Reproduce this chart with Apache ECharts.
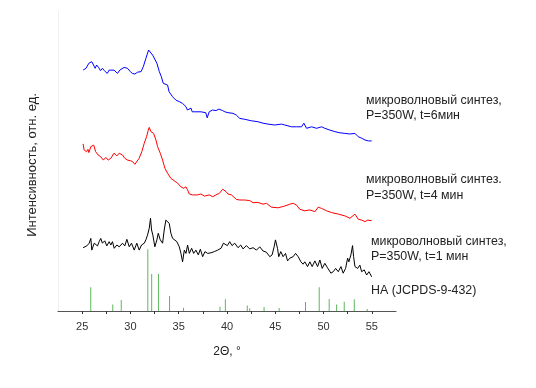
<!DOCTYPE html>
<html>
<head>
<meta charset="utf-8">
<script src="https://cdn.jsdelivr.net/npm/echarts@6/dist/echarts.min.js"></script>
<style>
html,body{margin:0;padding:0;background:#fff;}
#c{width:536px;height:388px;}
</style>
</head>
<body>
<div id="c"></div>
<script>
// 2Θ tick values
const xLabelTicks = [25, 30, 35, 40, 45, 50, 55];
const xAllTicks = [25, 27.5, 30, 32.5, 35, 37.5, 40, 42.5, 45, 47.5, 50, 52.5, 55];

// microwave synthesis, t = 6 min (blue)
const t6 = [
[25.1,80.3],[25.4,80.9],[25.7,82.6],[26.0,83.1],[26.2,82.8],[26.35,80.9],[26.5,82.0],[26.7,81.2],
[26.9,80.1],[27.1,80.9],[27.3,80.1],[27.6,79.2],[27.8,80.3],[27.95,80.9],[28.3,80.3],[28.66,79.2],
[28.9,80.3],[29.35,81.2],[29.7,80.9],[29.98,79.8],[30.2,79.2],[30.46,79.0],[30.74,79.6],[31.1,79.8],
[31.33,81.4],[31.6,84.2],[31.88,87.0],[32.05,86.4],[32.3,85.3],[32.5,84.8],[32.74,82.6],[32.99,79.8],
[33.2,78.1],[33.4,75.9],[33.6,75.3],[33.85,75.3],[34.0,73.1],[34.37,71.4],[34.7,70.3],[35.06,69.8],
[35.4,69.2],[35.75,68.1],[35.9,67.0],[36.27,67.6],[36.4,66.4],[36.78,66.4],[37.3,66.4],[37.8,66.1],
[37.95,64.4],[38.16,66.4],[38.5,67.0],[38.86,66.8],[39.16,67.3],[39.55,66.8],[39.78,66.4],[40.1,66.1],
[40.62,65.9],[40.97,65.3],[41.32,64.2],[41.84,63.9],[42.53,63.4],[43.2,63.1],[43.73,62.6],[44.25,62.3],
[44.95,62.0],[45.64,62.3],[45.99,62.0],[46.68,61.4],[47.2,61.4],[47.72,61.4],[47.96,62.6],[48.24,60.9],
[48.76,61.4],[49.27,60.9],[49.8,61.4],[50.13,60.9],[50.65,60.3],[51.17,59.8],[51.69,59.4],[52.21,59.2],
[52.73,59.0],[53.25,59.2],[53.59,58.1],[53.94,57.6],[54.29,57.0],[54.63,56.7],[54.98,56.7]
];

// microwave synthesis, t = 4 min (red)
const t4 = [
[25.1,55.7],[25.2,53.7],[25.45,53.1],[25.6,53.9],[25.7,52.8],[25.9,54.8],[26.2,55.3],[26.25,55.7],
[26.4,53.1],[26.66,52.0],[26.93,51.4],[27.2,50.3],[27.45,51.2],[27.7,50.3],[27.97,50.9],[28.14,51.4],
[28.3,52.6],[28.6,51.7],[28.84,52.6],[29.18,52.0],[29.42,50.9],[29.7,50.3],[29.98,50.1],[30.22,49.8],
[30.46,48.9],[30.66,49.4],[30.9,50.9],[31.18,53.1],[31.43,55.9],[31.67,58.1],[31.85,60.3],[31.95,61.2],
[32.12,59.8],[32.4,59.2],[32.64,57.0],[32.81,54.8],[33.09,52.6],[33.33,50.3],[33.57,47.6],[33.85,45.9],
[34.19,44.2],[34.54,43.4],[34.89,42.6],[35.23,41.4],[35.51,40.9],[35.75,41.4],[35.92,40.3],[36.1,39.0],
[36.44,38.7],[36.96,38.7],[37.3,39.0],[37.66,38.3],[38.17,38.7],[38.52,38.1],[38.86,38.7],[39.21,39.2],
[39.55,40.6],[39.9,39.8],[40.1,39.0],[40.46,38.7],[40.97,37.2],[41.32,37.0],[41.84,37.0],[42.35,36.8],
[42.7,36.1],[43.2,36.2],[43.73,35.6],[44.08,35.9],[44.6,34.6],[45.29,34.4],[45.99,35.0],[46.5,35.6],
[46.85,35.9],[47.2,35.3],[47.54,33.9],[48.06,33.4],[48.58,33.7],[49.1,33.1],[49.44,34.6],[49.79,34.2],
[50.31,33.4],[50.83,32.8],[51.52,32.3],[52.21,31.7],[52.73,30.9],[52.9,30.3],[53.25,32.3],[53.59,30.6],
[53.94,30.3],[54.29,29.8],[54.56,30.3],[54.98,30.1]
];

// microwave synthesis, t = 1 min (black)
const t1 = [
[25.1,21.1],[25.48,21.7],[25.73,22.6],[25.9,24.2],[26.0,20.3],[26.25,22.6],[26.41,23.1],[26.59,21.7],
[26.76,23.1],[26.93,24.2],[27.1,22.6],[27.34,23.4],[27.55,21.7],[27.8,23.1],[27.97,22.0],[28.14,23.1],
[28.32,20.9],[28.59,22.0],[28.84,21.4],[29.18,22.6],[29.42,21.7],[29.63,23.9],[29.88,21.4],[30.11,22.6],
[30.39,20.3],[30.66,22.6],[30.91,20.3],[31.15,22.0],[31.43,22.6],[31.6,23.7],[31.77,25.3],[31.95,27.6],
[32.08,30.9],[32.19,27.0],[32.32,25.3],[32.53,21.4],[32.74,23.7],[32.88,25.9],[33.09,23.7],[33.33,22.6],
[33.5,27.0],[33.67,30.3],[33.85,30.3],[34.02,29.2],[34.19,25.9],[34.37,24.2],[34.54,24.8],[34.81,23.1],
[35.06,21.4],[35.23,19.2],[35.4,16.4],[35.58,20.3],[35.75,19.2],[35.92,22.0],[36.1,19.2],[36.34,20.9],
[36.55,19.2],[36.78,20.3],[37.03,18.7],[37.24,20.6],[37.48,18.1],[37.72,19.8],[38.0,19.2],[38.34,19.4],
[38.69,19.8],[39.04,20.3],[39.38,20.9],[39.63,22.6],[39.83,22.6],[40.04,21.8],[40.28,23.1],[40.52,21.8],
[40.8,22.6],[41.14,21.1],[41.42,22.0],[41.66,20.7],[42.01,21.8],[42.35,20.7],[42.7,21.1],[43.05,20.3],
[43.39,21.4],[43.73,20.0],[44.08,19.6],[44.43,18.1],[44.67,18.7],[44.88,21.4],[45.02,23.7],[45.23,20.9],
[45.36,18.1],[45.57,19.8],[45.81,18.1],[46.06,19.2],[46.27,16.7],[46.5,17.6],[46.85,18.1],[47.1,19.2],
[47.37,18.1],[47.65,16.4],[47.88,15.6],[48.06,16.4],[48.34,14.8],[48.58,16.4],[48.82,14.8],[49.1,16.7],
[49.38,14.8],[49.62,17.0],[49.86,14.2],[50.13,15.9],[50.41,14.4],[50.76,12.6],[51.0,13.1],[51.25,14.2],
[51.52,13.1],[51.8,14.8],[52.03,12.6],[52.28,14.2],[52.49,17.6],[52.62,16.4],[52.83,18.7],[53.0,21.8],
[53.11,18.1],[53.25,14.8],[53.53,14.2],[53.76,15.3],[53.94,13.1],[54.21,13.7],[54.46,12.0],[54.7,13.1],
[54.98,11.4]
];

// HA reference (JCPDS 9-432) stick pattern
const haPos = [25.89, 28.17, 29.05, 31.8, 32.2, 32.9, 34.05, 35.5, 39.27, 39.83, 42.1, 42.35, 43.84, 45.4, 48.13, 49.55, 50.58, 51.35, 52.14, 53.18, 54.52];
const haInt = [7.9, 2.2, 3.7, 20.6, 12.3, 12.3, 5.0, 1.1, 1.4, 3.9, 1.8, 0.9, 1.3, 1.0, 3.0, 7.9, 4.0, 2.2, 3.1, 3.9, 0.7];

const labels = [
  ['микроволновый синтез,', 'P=350W, t=6мин'],
  ['микроволновый синтез.', 'P=350W, t=4 мин'],
  ['микроволновый синтез,', 'P=350W, t=1 мин'],
  ['HA (JCPDS-9-432)']
];
const yTitle = 'Интенсивность, отн. ед.';
const xTitle = '2Θ, °';

const chart = echarts.init(document.getElementById('c'), null, {renderer: 'canvas'});
const FONT = 'Liberation Sans, Arial, sans-serif';
const lineSeries = (data, color) => ({
  type: 'line', data: data, showSymbol: false, symbol: 'none', silent: true,
  lineStyle: {color: color, width: 1}, animation: false
});

chart.setOption({
  animation: false,
  backgroundColor: '#fff',
  grid: {left: 58, right: 140, top: 11, bottom: 77},
  xAxis: {
    type: 'value', min: 22.5, max: 57.5,
    name: xTitle, nameLocation: 'middle', nameGap: 35,
    nameTextStyle: {fontFamily: FONT, fontSize: 12, color: '#222'},
    axisLine: {show: true, lineStyle: {color: '#555', width: 1.2}},
    axisTick: {show: true, length: 3, customValues: xAllTicks, lineStyle: {color: '#333'}},
    axisLabel: {customValues: xLabelTicks, fontFamily: FONT, fontSize: 11, color: '#333', margin: 10},
    splitLine: {show: false}
  },
  yAxis: {
    type: 'value', min: 0, max: 100,
    axisLine: {show: true, lineStyle: {color: '#f0f0f0', width: 1}},
    axisTick: {show: false}, axisLabel: {show: false}, splitLine: {show: false}
  },
  series: [
    lineSeries(t6, '#0000ff'),
    lineSeries(t4, '#ff0000'),
    lineSeries(t1, '#000000'),
    {
      type: 'bar', barWidth: 1, silent: true,
      data: haPos.map((p, i) => [p, haInt[i]]),
      itemStyle: {color: '#5cb85c'}
    }
  ],
  graphic: [
    {type: 'text', x: 32, y: 165, rotation: Math.PI / 2,
     style: {text: yTitle, font: '13px ' + FONT, fill: '#222', align: 'center', verticalAlign: 'middle'}},
    {type: 'text', left: 366, top: 93, style: {text: labels[0].join('\n'), font: '12.4px ' + FONT, fill: '#222', lineHeight: 15}},
    {type: 'text', left: 366, top: 172, style: {text: labels[1].join('\n'), font: '12.4px ' + FONT, fill: '#222', lineHeight: 16}},
    {type: 'text', left: 371, top: 234, style: {text: labels[2].join('\n'), font: '12.4px ' + FONT, fill: '#222', lineHeight: 15}},
    {type: 'text', left: 371, top: 285, style: {text: labels[3].join('\n'), font: '12.4px ' + FONT, fill: '#222'}}
  ]
});
</script>
</body>
</html>
